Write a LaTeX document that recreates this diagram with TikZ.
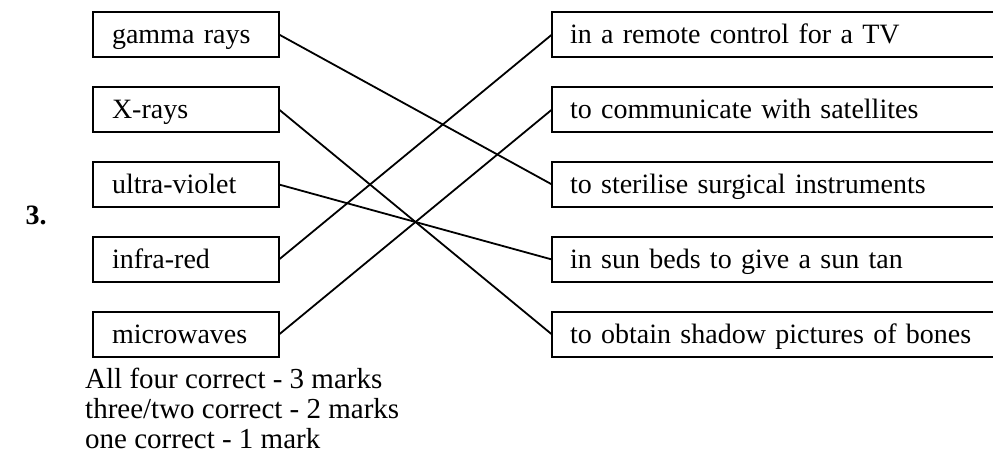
\documentclass[tikz,border=0pt]{standalone}
\usepackage{fontspec}
\setmainfont{Liberation Serif}
\usetikzlibrary{positioning}

\begin{document}
\begin{tikzpicture}[
  x=1pt, y=-1pt,
  font=\fontsize{28}{30}\selectfont,
  node distance=30pt,
  wave/.style={
    draw,
    line width=2.4pt,
    outer sep=0pt,
    minimum height=45pt,
    inner xsep=19pt,
    inner ysep=0pt,
    text width=148pt,
    align=left,
    text height=23pt,
    text depth=6pt
  },
  usage/.style={wave, inner xsep=18pt, text width=500pt},
  link/.style={line width=1.8pt}
]
\clip (0,0) rectangle (993,459);

\node[wave, anchor=north west] (gamma) at (93,12) {gamma rays};
\node[wave, below=of gamma] (xrays) {X-rays};
\node[wave, below=of xrays] (uv) {ultra-violet};
\node[wave, below=of uv] (ir) {infra-red};
\node[wave, below=of ir] (micro) {microwaves};

\node[usage, anchor=north west] (remote) at (552,12) {in a remote control for a TV};
\node[usage, below=of remote] (satellite) {to communicate with satellites};
\node[usage, below=of satellite] (sterilise) {to sterilise surgical instruments};
\node[usage, below=of sterilise] (sunbed) {in sun beds to give a sun tan};
\node[usage, below=of sunbed] (bones) {to obtain shadow pictures of bones};

\node[font=\fontsize{28}{30}\selectfont\bfseries, anchor=base west] (qnum) at (22,224) {3.};

\node[anchor=north west, inner sep=0pt, align=left, font=\fontsize{29}{30}\selectfont]
  (marks) at (85,368)
  {All four correct - 3 marks\\three/two correct - 2 marks\\one correct - 1 mark};

\draw[link] (gamma.east) -- (sterilise.west);
\draw[link] (xrays.east) -- (bones.west);
\draw[link] (uv.east) -- (sunbed.west);
\draw[link] (ir.east) -- (remote.west);
\draw[link] (micro.east) -- (satellite.west);
\end{tikzpicture}
\end{document}
